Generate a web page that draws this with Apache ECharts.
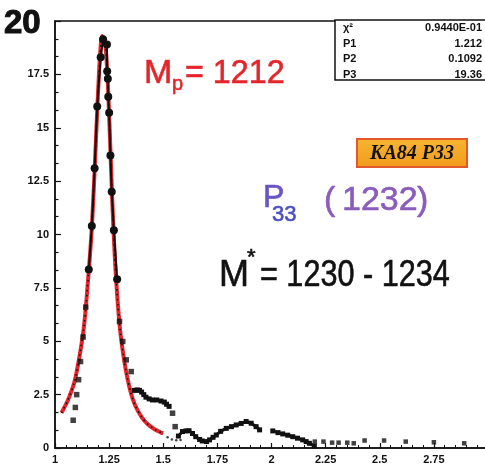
<!DOCTYPE html>
<html>
<head>
<meta charset="utf-8">
<script src="https://cdn.jsdelivr.net/npm/echarts@6/dist/echarts.min.js"></script>
<style>
html,body{margin:0;padding:0;background:#fff}
#main{width:485px;height:468px}
</style>
</head>
<body>
<div id="main"></div>
<script>
// axis ranges / ticks
let xMin = 1, xMax = 3, xStep = 0.25;
let yMin = 0, yMax = 20, yStep = 2.5;

// fitted curve (red)
let fitCurve = [[1.03,1.65],[1.06,2.25],[1.09,3.1],[1.115,4.4],[1.135,5.8],[1.156,8.3],[1.170,10.3],
	[1.183,13.0],[1.195,15.8],[1.207,18.2],[1.218,19.3],[1.232,18.9],[1.242,17.5],[1.250,15.6],
	[1.258,13.4],[1.266,11.2],[1.276,9.0],[1.287,7.2],[1.30,5.6],[1.315,4.4],[1.33,3.5],[1.35,2.6],
	[1.37,2.0],[1.40,1.45],[1.43,1.1],[1.46,0.88],[1.49,0.72],[1.50,0.68]];
// fine dots running on past the end of the fit
let fineTrail = [[1.52,0.5],[1.54,0.4],[1.56,0.36],[1.58,0.38]];
// big circles on the peak
let peakCircles = [[1.156,8.36],[1.170,10.4],[1.183,13.1],[1.195,16.0],[1.211,18.3],[1.222,19.15],
	[1.240,18.9],[1.241,17.65],[1.244,17.3],[1.246,16.45],[1.250,15.7],[1.256,13.7],[1.262,12.0],
	[1.272,10.2],[1.287,7.9]];
// single squares on both flanks
let flankSquares = [[1.142,6.6],[1.130,5.2],[1.118,4.05],[1.109,3.2],[1.100,2.5],[1.094,1.9],[1.084,1.3],
	[1.298,5.93],[1.313,4.99],[1.329,4.13],[1.352,3.58],[1.543,1.63],[1.555,1.0]];
// the connected squares (shoulder and bumps)
let shoulder = [[1.367,2.7],[1.38,2.72],[1.39,2.7],[1.40,2.62],[1.41,2.5],[1.42,2.38],[1.435,2.3],
	[1.45,2.25],[1.47,2.25],[1.49,2.2],[1.505,2.15],[1.515,2.05],[1.527,1.95]];
let bumpA = [[1.570,0.56],[1.589,0.77],[1.605,0.8],[1.619,0.81],[1.635,0.68],[1.65,0.53],[1.668,0.4],
	[1.68,0.33],[1.70,0.3],[1.714,0.38],[1.73,0.5],[1.745,0.61],[1.765,0.78],[1.791,0.92],[1.815,1.0],
	[1.837,1.08],[1.86,1.15],[1.883,1.24],[1.906,1.16],[1.929,1.0],[1.945,0.85]];
let bumpB = [[2.006,0.8],[2.03,0.72],[2.052,0.66],[2.075,0.6],[2.098,0.53],[2.12,0.46],[2.144,0.38],
	[2.16,0.3],[2.175,0.22],[2.198,0.09]];
let tailSquares = [[2.2,0.3],[2.24,0.3],[2.28,0.25],[2.31,0.25],[2.35,0.25],[2.38,0.22],[2.43,0.35],
	[2.52,0.35],[2.62,0.3],[2.75,0.27],[2.89,0.22]];

// fit box
let fitNames = ['χ²', 'P1', 'P2', 'P3'];
let fitValues = ['0.9440E-01', '1.212', '0.1092', '19.36'];

let myChart = echarts.init(document.getElementById('main'));

let lbl = {color:'#111', fontFamily:'Liberation Sans', fontWeight:'bold', fontSize:11};
let hand = 'Liberation Sans';

// stats box rows
let boxRows = [];
fitNames.forEach(function(n, i){
	boxRows.push({type:'text', x:343, y:28 + i*15.5, z:20, style:{text:n, fill:'#111', font:'bold 11px Liberation Sans', textVerticalAlign:'middle'}});
	boxRows.push({type:'text', x:482, y:28 + i*15.5, z:20, style:{text:fitValues[i], fill:'#111', font:'bold 11px Liberation Sans', textAlign:'right', textVerticalAlign:'middle'}});
});

// handwritten note helper
function note(txt, x, y, size, color, extra){
	return Object.assign({type:'text', x:x, y:y, z:20,
		style:{text:txt, fill:color, stroke:color, lineWidth:0.6, font:size+'px '+hand, textVerticalAlign:'middle'}}, extra || {});
}

let option = {
	animation:false,
	backgroundColor:'#fff',
	grid:{left:55, right:-3, top:21, bottom:20, show:true, borderColor:'#111', borderWidth:1.5,
		containLabel:false, outerBoundsMode:'none'},
	xAxis:{
		type:'value', min:xMin, max:xMax, interval:xStep,
		axisLine:{lineStyle:{color:'#111', width:1.5}},
		axisTick:{inside:true, length:5, lineStyle:{color:'#111', width:1.2}},
		minorTick:{show:true, splitNumber:5, length:3, lineStyle:{color:'#111'}},
		axisLabel:Object.assign({margin:6, formatter:function(v){ return v >= xMax ? '' : String(v); }}, lbl),
		splitLine:{show:false}
	},
	yAxis:{
		type:'value', min:yMin, max:yMax, interval:yStep,
		axisLine:{lineStyle:{color:'#111', width:1.5}},
		axisTick:{inside:true, length:6, lineStyle:{color:'#111', width:1.2}},
		minorTick:{show:true, splitNumber:3, length:3.5, lineStyle:{color:'#111', width:1.2}},
		axisLabel:Object.assign({margin:6, formatter:function(v){ return v >= yMax ? '' : String(v); }}, lbl),
		splitLine:{show:false}
	},
	series:[
		{type:'line', data:fitCurve, smooth:0.3, showSymbol:false, z:2,
			lineStyle:{color:'#e3262b', width:4}},
		{type:'line', data:fitCurve, smooth:0.3, showSymbol:false, z:3,
			lineStyle:{color:'#111', width:1.6, type:[1.5,3.5]}},
		{type:'scatter', data:fineTrail, symbol:'circle', symbolSize:2.5, z:3, itemStyle:{color:'#111'}},
		{type:'line', data:peakCircles, symbol:'circle', symbolSize:8, showAllSymbol:true, z:5,
			itemStyle:{color:'#111'}, lineStyle:{color:'#111', width:2}},
		{type:'scatter', data:flankSquares, symbol:'rect', symbolSize:5.5, z:4, itemStyle:{color:'#111'}},
		{type:'line', data:shoulder, symbol:'rect', symbolSize:5, showAllSymbol:true, z:4,
			itemStyle:{color:'#111'}, lineStyle:{color:'#111', width:3}},
		{type:'line', data:bumpA, symbol:'rect', symbolSize:5, showAllSymbol:true, z:4,
			itemStyle:{color:'#111'}, lineStyle:{color:'#111', width:3}},
		{type:'line', data:bumpB, symbol:'rect', symbolSize:5, showAllSymbol:true, z:4,
			itemStyle:{color:'#111'}, lineStyle:{color:'#111', width:3}},
		{type:'scatter', data:tailSquares, symbol:'rect', symbolSize:4.5, z:4, itemStyle:{color:'#111'}}
	],
	graphic:[
		// handwritten "20" at the top of the y axis
		{type:'text', x:4, y:7, z:20, style:{text:'20', fill:'#111', stroke:'#111', lineWidth:1, font:'bold 33px '+hand}},
		// fit parameter box
		{type:'rect', shape:{x:335, y:20, width:160, height:60}, z:10,
			style:{fill:'#fff', stroke:'#111', lineWidth:1.5}},
		{type:'group', children:boxRows},
		// red note
		note('M', 144, 74, 34, '#e3262b'),
		note('p', 172, 84, 20, '#e3262b'),
		note('= 1212', 185, 74, 34, '#e3262b', {scaleX:0.95}),
		// orange label
		{type:'rect', shape:{x:357, y:139, width:110, height:28}, z:10,
			style:{fill:{type:'linear', x:0, y:0, x2:0, y2:1, colorStops:[{offset:0, color:'#f7b632'}, {offset:1, color:'#f29a1c'}]},
				stroke:'#e2582a', lineWidth:2}},
		{type:'text', x:412, y:154, z:11, style:{text:'KA84 P33', fill:'#111', font:'bold italic 20px Liberation Serif', textAlign:'center', textVerticalAlign:'middle'}},
		// purple note
		note('P', 263, 198, 32, '#6a55c4'),
		note('33', 272, 215, 22, '#4a4fc4'),
		note('(', 324, 201, 34, '#8a5cbc'),
		note('1232', 342, 201, 34, '#8a5cbc'),
		note(')', 417, 201, 34, '#8a5cbc'),
		// black note
		note('M', 219, 276, 36, '#111'),
		note('*', 247, 258, 22, '#111'),
		note('= 1230 - 1234', 260, 276, 36, '#111', {scaleX:0.85})
	]
};

myChart.setOption(option);
</script>
</body>
</html>
